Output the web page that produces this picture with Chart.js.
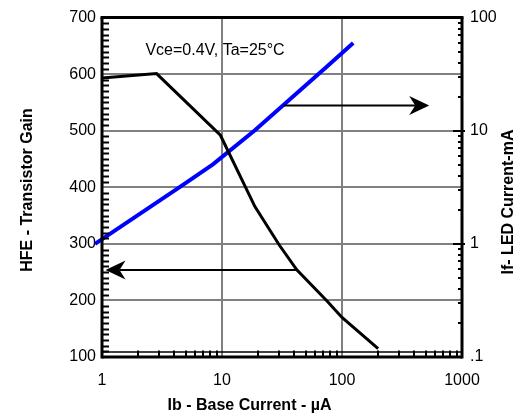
<!DOCTYPE html>
<html>
<head>
<meta charset="utf-8">
<script src="https://cdn.jsdelivr.net/npm/chart.js@4.4.0/dist/chart.umd.min.js"></script>
<style>
  html, body { margin: 0; padding: 0; background: #fff; }
</style>
</head>
<body>
<canvas id="grafica" width="522" height="415"></canvas>
<script>
// Curva HFE (eje izquierdo)
var hfeIb = [1, 2.85, 9.7, 18.8, 30, 42, 75, 100, 200];
var hfeValores = [593, 601, 492, 366, 298, 254, 199, 170, 115];

// Curva If del LED (eje derecho, mA)
var ledIb = [0.875, 4.47, 8.4, 18.8, 75, 124];
var ledValores = [1.0, 3.19, 5.05, 10.1, 37, 59.6];

var xTicks = [1, 10, 100, 1000];
var xEtiquetas = ['1', '10', '100', '1000'];
var hfeTicks = [100, 200, 300, 400, 500, 600, 700];
var ledTicks = [0.1, 1, 10, 100];
var ledEtiquetas = ['.1', '1', '10', '100'];

var nota = 'Vce=0.4V, Ta=25°C';
var notaPos = [2.3, 633]; // Ib, HFE

// Flechas: [Ib inicio, Ib punta, valor en su eje]
var flechaDerecha = [32.6, 533, 16.7];   // eje derecho
var flechaIzquierda = [42, 1.07, 254];   // eje izquierdo

var tituloX = 'Ib - Base Current - \u00b5A';
var tituloY = 'HFE - Transistor Gain';
var tituloY2 = 'If- LED Current-mA';

var fuente = "'Liberation Sans', Arial, sans-serif";
var gris = '#808080';

function puntos(xs, ys) {
    return xs.map(function (x, i) { return { x: x, y: ys[i] }; });
}

// Función para dibujar una flecha horizontal con punta
function dibujarFlecha(ctx, x1, x2, y) {
    var dir = x2 > x1 ? 1 : -1;
    var largo = 20, ancho = 9.5, muesca = 14;
    ctx.save();
    ctx.strokeStyle = '#000';
    ctx.fillStyle = '#000';
    ctx.lineWidth = 2;
    ctx.beginPath();
    ctx.moveTo(x1, y);
    ctx.lineTo(x2 - dir * muesca, y);
    ctx.stroke();
    ctx.beginPath();
    ctx.moveTo(x2, y);
    ctx.lineTo(x2 - dir * largo, y - ancho);
    ctx.lineTo(x2 - dir * muesca, y);
    ctx.lineTo(x2 - dir * largo, y + ancho);
    ctx.closePath();
    ctx.fill();
    ctx.restore();
}

function linea(ctx, x1, y1, x2, y2, ancho) {
    ctx.lineWidth = ancho;
    ctx.beginPath();
    ctx.moveTo(x1, y1);
    ctx.lineTo(x2, y2);
    ctx.stroke();
}

var decorado = {
    id: 'decorado',
    afterDatasetsDraw: function (chart) {
        var ctx = chart.ctx;
        var sx = chart.scales.x, sy = chart.scales.y, sy2 = chart.scales.y2;
        dibujarFlecha(ctx, sx.getPixelForValue(flechaDerecha[0]), sx.getPixelForValue(flechaDerecha[1]), sy2.getPixelForValue(flechaDerecha[2]));
        dibujarFlecha(ctx, sx.getPixelForValue(flechaIzquierda[0]), sx.getPixelForValue(flechaIzquierda[1]), sy.getPixelForValue(flechaIzquierda[2]));
    },
    afterDraw: function (chart) {
        var ctx = chart.ctx;
        var a = chart.chartArea;
        var sx = chart.scales.x, sy = chart.scales.y, sy2 = chart.scales.y2;
        ctx.save();
        ctx.strokeStyle = '#000';

        // marco
        linea(ctx, a.left - 1.5, a.top, a.right + 1.5, a.top, 3);
        linea(ctx, a.left, a.top, a.left, a.bottom + 1.5, 3);
        linea(ctx, a.right, a.top, a.right, a.bottom + 1.5, 3);
        linea(ctx, a.left, a.bottom, a.right, a.bottom, 3);
        linea(ctx, a.left, a.bottom - 5, a.right, a.bottom - 5, 1.5);

        // marcas menores eje izquierdo
        for (var v = 110; v < 700; v += 10) {
            if (v % 100 === 0) continue;
            var py = Math.round(sy.getPixelForValue(v)) + 0.5;
            linea(ctx, a.left, py, a.left + 7, py, 2);
        }
        // marcas menores eje x
        [1, 10, 100].forEach(function (d) {
            for (var m = 2; m <= 9; m++) {
                var px = Math.round(sx.getPixelForValue(m * d));
                linea(ctx, px, a.bottom - 6.5, px, a.bottom, 2);
            }
        });
        // marcas eje derecho
        [0.1, 1, 10].forEach(function (d) {
            for (var m = 2; m <= 9; m++) {
                var py = Math.round(sy2.getPixelForValue(m * d));
                linea(ctx, a.right, py, a.right - 4, py, 2);
            }
        });
        [1, 10].forEach(function (d) {
            var py = Math.round(sy2.getPixelForValue(d));
            linea(ctx, a.right + 3, py, a.right - 9, py, 2);
        });

        // nota
        ctx.fillStyle = '#000';
        ctx.font = '16px ' + fuente;
        ctx.textAlign = 'left';
        ctx.textBaseline = 'alphabetic';
        ctx.fillText(nota, sx.getPixelForValue(notaPos[0]), sy.getPixelForValue(notaPos[1]));

        // titulos de ejes
        ctx.font = 'bold 16px ' + fuente;
        ctx.textAlign = 'center';
        ctx.fillText(tituloX, 249.5, 410);
        ctx.textBaseline = 'middle';
        ctx.save();
        ctx.translate(28, 190);
        ctx.rotate(-Math.PI / 2);
        ctx.fillText(tituloY, 0, 0);
        ctx.restore();
        ctx.save();
        ctx.translate(509, 202);
        ctx.rotate(-Math.PI / 2);
        ctx.fillText(tituloY2, 0, 0);
        ctx.restore();
        ctx.restore();
    }
};

var fuenteTicks = { family: fuente, size: 16 };

var grafica = new Chart(document.getElementById('grafica').getContext('2d'), {
    type: 'line',
    data: {
        datasets: [{
            label: 'HFE',
            data: puntos(hfeIb, hfeValores),
            yAxisID: 'y',
            borderColor: '#000',
            borderWidth: 3,
            pointRadius: 0,
            tension: 0,
            fill: false
        }, {
            label: 'If',
            data: puntos(ledIb, ledValores),
            yAxisID: 'y2',
            borderColor: '#0000ff',
            borderWidth: 4,
            pointRadius: 0,
            tension: 0,
            fill: false,
            clip: false
        }]
    },
    options: {
        responsive: false,
        animation: false,
        devicePixelRatio: 1,
        layout: { padding: { top: 10, left: 0, right: 0, bottom: 0 } },
        plugins: { legend: { display: false }, tooltip: { enabled: false } },
        scales: {
            x: {
                type: 'logarithmic',
                min: 1,
                max: 1000,
                afterBuildTicks: function (s) { s.ticks = xTicks.map(function (v) { return { value: v }; }); },
                afterFit: function (s) { s.height = 58; },
                border: { display: false },
                grid: {
                    drawTicks: false,
                    lineWidth: 2,
                    color: function (c) {
                        return (c.tick && (c.tick.value === 10 || c.tick.value === 100)) ? gris : 'rgba(0,0,0,0)';
                    }
                },
                ticks: {
                    color: '#000',
                    font: fuenteTicks,
                    padding: 14,
                    autoSkip: false,
                    maxRotation: 0,
                    callback: function (v, i) { return xEtiquetas[i]; }
                }
            },
            y: {
                type: 'linear',
                position: 'left',
                min: 100,
                max: 700,
                afterBuildTicks: function (s) { s.ticks = hfeTicks.map(function (v) { return { value: v }; }); },
                afterFit: function (s) { s.width = 102; },
                border: { display: false },
                grid: {
                    drawTicks: false,
                    lineWidth: 2,
                    color: function (c) {
                        return (c.tick && c.tick.value > 100 && c.tick.value < 700) ? gris : 'rgba(0,0,0,0)';
                    }
                },
                ticks: { color: '#000', font: fuenteTicks, padding: 6 }
            },
            y2: {
                type: 'logarithmic',
                position: 'right',
                min: 0.1,
                max: 100,
                afterBuildTicks: function (s) { s.ticks = ledTicks.map(function (v) { return { value: v }; }); },
                afterFit: function (s) { s.width = 60; },
                border: { display: false },
                grid: { display: false, drawTicks: false },
                ticks: {
                    color: '#000',
                    font: fuenteTicks,
                    padding: 8,
                    callback: function (v, i) { return ledEtiquetas[i]; }
                }
            }
        }
    },
    plugins: [decorado]
});
</script>
</body>
</html>
